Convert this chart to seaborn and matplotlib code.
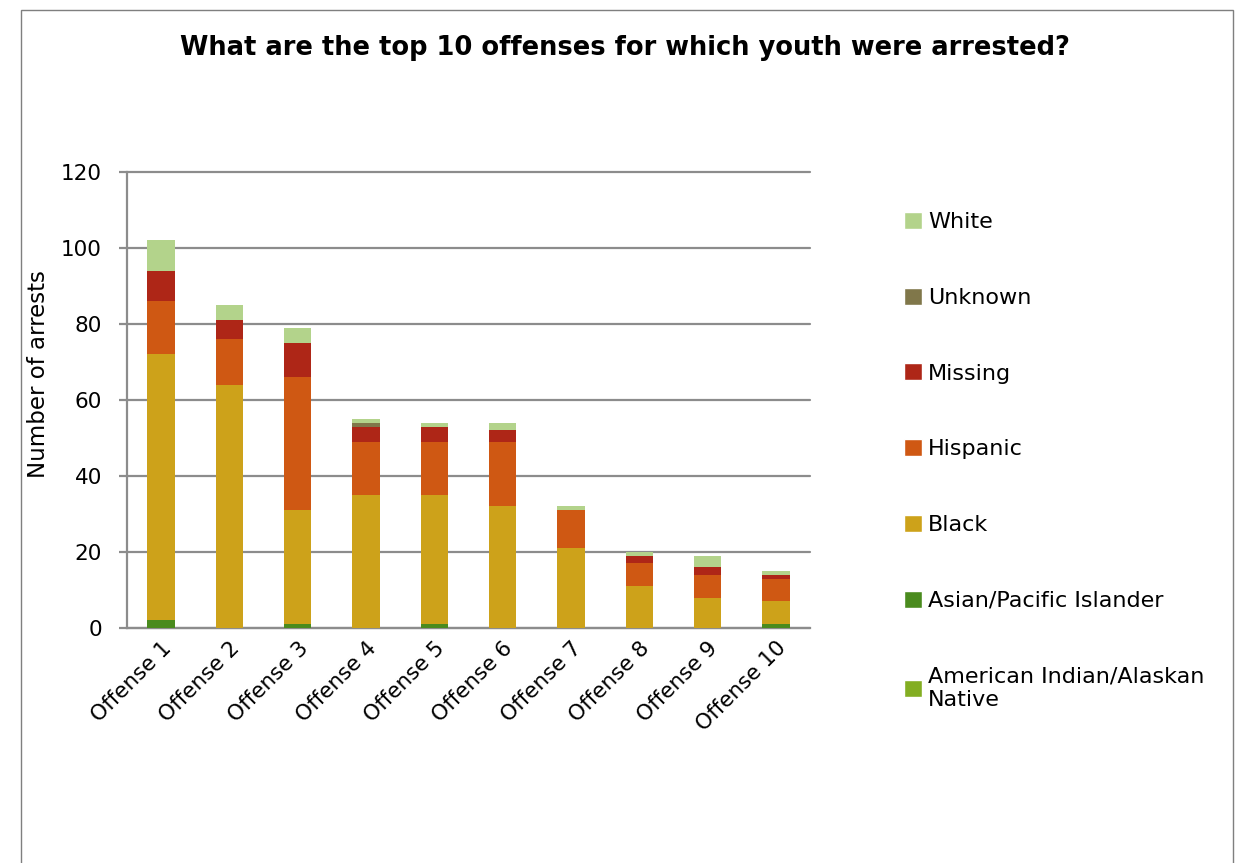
import matplotlib
matplotlib.use("Agg")
import matplotlib.pyplot as plt
from matplotlib.patches import Rectangle, Patch
from matplotlib.ticker import FixedLocator
import seaborn as sns
import numpy as np
import pandas as pd

# Data (stack order bottom -> top)
offenses = ["Offense 1", "Offense 2", "Offense 3", "Offense 4", "Offense 5",
            "Offense 6", "Offense 7", "Offense 8", "Offense 9", "Offense 10"]
american_indian = [0, 0, 0, 0, 0, 0, 0, 0, 0, 0]
asian = [2, 0, 1, 0, 1, 0, 0, 0, 0, 1]
black = [70, 64, 30, 35, 34, 32, 21, 11, 8, 6]
hispanic = [14, 12, 35, 14, 14, 17, 10, 6, 6, 6]
missing = [8, 5, 9, 4, 4, 3, 0, 2, 2, 1]
unknown = [0, 0, 0, 1, 0, 0, 0, 0, 0, 0]
white = [8, 4, 4, 1, 1, 2, 1, 1, 3, 1]

series = [
    ("American Indian/Alaskan\nNative", american_indian, "#83AE22"),
    ("Asian/Pacific Islander", asian, "#4A8B1E"),
    ("Black", black, "#CDA21A"),
    ("Hispanic", hispanic, "#CF5813"),
    ("Missing", missing, "#AE2617"),
    ("Unknown", unknown, "#80774A"),
    ("White", white, "#B3D38B"),
]

sns.set_style("white")
plt.rcParams["font.family"] = ["DejaVu Sans"]
plt.rcParams["text.color"] = "black"
plt.rcParams["xtick.labelcolor"] = "black"
plt.rcParams["ytick.labelcolor"] = "black"
plt.rcParams["axes.labelcolor"] = "black"

fig = plt.figure(figsize=(12.43, 8.63), dpi=100)
ax = fig.add_axes([127 / 1243, 1 - 628 / 863, (810 - 127) / 1243, (628 - 172) / 863])

# outer frame
fig.patches.append(Rectangle((21 / 1243, -0.01), (1233 - 21) / 1243, 1 - 10 / 863 + 0.01,
                             transform=fig.transFigure, fill=False,
                             edgecolor="#7f7f7f", linewidth=1.0))

bottom = np.zeros(len(offenses))
handles = []
for name, vals, color in series:
    df = pd.DataFrame({"Offense": offenses, "Value": vals})
    sns.barplot(data=df, x="Offense", y="Value", color=color, bottom=bottom,
                width=0.4, saturation=1, linewidth=0, ax=ax, zorder=3)
    bottom = bottom + np.array(vals)
    handles.append(Patch(facecolor=color, label=name))

ax.set_xlim(-0.5, len(offenses) - 0.5)
ax.set_ylim(0, 120)
ax.set_yticks(range(0, 121, 20))
ax.yaxis.grid(True, color="#8c8c8c", linewidth=1.6, zorder=0)
for gl in ax.get_ygridlines():
    gl.set_clip_on(False)
ax.set_axisbelow(True)

for s in ["top", "right"]:
    ax.spines[s].set_visible(False)
for s in ["left", "bottom"]:
    ax.spines[s].set_color("#8c8c8c")
    ax.spines[s].set_linewidth(1.6)

ax.xaxis.set_minor_locator(FixedLocator(np.arange(-0.5, len(offenses), 1.0)))
ax.tick_params(axis="x", which="major", length=0, labelsize=15.5, pad=7)
ax.tick_params(axis="x", which="minor", length=6, width=1.6, color="#8c8c8c", direction="out")
ax.tick_params(axis="y", length=6, width=1.6, color="#8c8c8c", direction="out",
               labelsize=15.5, left=True, pad=12)
plt.setp(ax.get_xticklabels(), rotation=45, ha="right", rotation_mode="anchor")

ax.set_xlabel("")
ax.set_ylabel("Number of arrests", fontsize=16.5)
ax.yaxis.set_label_coords(-0.113, 0.557)

fig.text(0.503, 1 - 48 / 863, "What are the top 10 offenses for which youth were arrested?",
         ha="center", va="center", fontsize=18.5, fontweight="bold")

fig.legend(handles=handles[::-1], loc="upper left",
           bbox_to_anchor=(895 / 1243, 1 - 203 / 863), frameon=False,
           fontsize=16, handlelength=0.8, handleheight=0.8,
           handletextpad=0.3, labelspacing=2.5, borderaxespad=0)

fig.savefig("out.png", dpi=100)
